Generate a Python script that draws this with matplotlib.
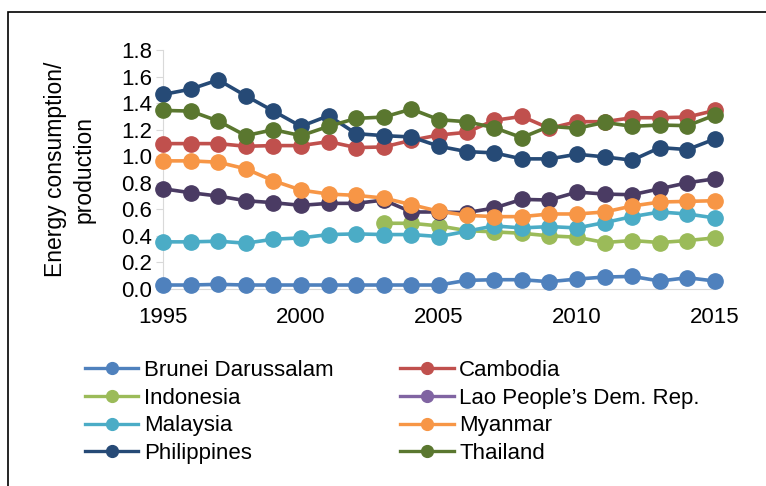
import numpy as np
import matplotlib.pyplot as plt
from matplotlib.lines import Line2D
from matplotlib.patches import Rectangle

plt.rcParams['font.family'] = ['Liberation Sans', 'DejaVu Sans']

years = list(range(1995, 2016))

brunei = [0.03, 0.03, 0.035, 0.03, 0.03, 0.03, 0.03, 0.03, 0.03, 0.03, 0.03,
          0.065, 0.07, 0.07, 0.055, 0.075, 0.09, 0.095, 0.06, 0.085, 0.06]
cambodia = [1.095, 1.095, 1.095, 1.075, 1.08, 1.08, 1.11, 1.065, 1.07, 1.12, 1.16,
            1.18, 1.27, 1.30, 1.21, 1.26, 1.26, 1.29, 1.29, 1.295, 1.345]
indonesia = [None] * 8 + [0.495, 0.495, 0.475,
                          0.44, 0.43, 0.42, 0.40, 0.39, 0.35, 0.365, 0.35, 0.365, 0.385]
lao = [0.755, 0.725, 0.70, 0.665, 0.65, 0.63, 0.645, 0.645, 0.67, 0.58, 0.58,
       0.575, 0.61, 0.675, 0.67, 0.73, 0.715, 0.71, 0.755, 0.80, 0.83]
malaysia = [0.355, 0.355, 0.36, 0.345, 0.375, 0.385, 0.41, 0.415, 0.41, 0.41, 0.395,
            0.435, 0.475, 0.46, 0.47, 0.46, 0.50, 0.545, 0.58, 0.565, 0.535]
myanmar = [0.965, 0.965, 0.955, 0.905, 0.815, 0.745, 0.715, 0.705, 0.685, 0.635, 0.585,
           0.555, 0.545, 0.545, 0.565, 0.565, 0.58, 0.625, 0.655, 0.66, 0.665]
philippines = [1.465, 1.505, 1.575, 1.455, 1.34, 1.225, 1.305, 1.17, 1.155, 1.145, 1.075,
               1.035, 1.025, 0.98, 0.98, 1.015, 0.995, 0.97, 1.065, 1.05, 1.13]
thailand = [1.345, 1.34, 1.265, 1.155, 1.20, 1.155, 1.225, 1.285, 1.295, 1.355, 1.275,
            1.26, 1.215, 1.14, 1.225, 1.21, 1.255, 1.225, 1.235, 1.23, 1.31]

names = ['Brunei Darussalam', 'Cambodia', 'Indonesia', "Lao People\u2019s Dem. Rep.",
         'Malaysia', 'Myanmar', 'Philippines', 'Thailand']
series = [brunei, cambodia, indonesia, lao, malaysia, myanmar, philippines, thailand]
line_colors = ['#4F81BD', '#C0504D', '#9BBB59', '#4A3B63',
               '#4BACC6', '#F79646', '#264A76', '#5A772F']
legend_colors = ['#4F81BD', '#C0504D', '#9BBB59', '#8064A2',
                 '#4BACC6', '#F79646', '#264A76', '#5A772F']

fig = plt.figure(figsize=(7.66, 4.86), dpi=100)
fig.patches.append(Rectangle((8 / 766, -0.1), 1.2, (486 - 12) / 486 + 0.1,
                             transform=fig.transFigure, fill=False,
                             edgecolor='black', linewidth=1.2))
ax = fig.add_axes([163 / 766, 1 - 289 / 486, (715 - 163) / 766, (289 - 50) / 486])

for vals, c in zip(series, line_colors):
    y = np.array([np.nan if v is None else v for v in vals], dtype=float)
    ax.plot(years, y, color=c, linewidth=2.6, marker='o', markersize=11,
            clip_on=False, zorder=3)

ax.set_xlim(1995, 2015)
ax.set_ylim(0, 1.8)
ax.set_xticks(range(1995, 2016, 5))
ax.set_yticks(np.arange(0, 1.81, 0.2))
ax.set_yticklabels([f'{v:.1f}' for v in np.arange(0, 1.81, 0.2)])
for s in ['top', 'right']:
    ax.spines[s].set_visible(False)
for s in ['left', 'bottom']:
    ax.spines[s].set_color('#D9D9D9')
ax.tick_params(axis='y', length=5, color='#D9D9D9', labelsize=16, pad=3)
ax.tick_params(axis='x', length=0, labelsize=16, pad=13)
ax.set_ylabel('Energy consumption/\nproduction', fontsize=16.5, linespacing=1.3,
              labelpad=18)

# legend is filled column by column: reorder so rows read left to right
order = [0, 2, 4, 6, 1, 3, 5, 7]
handles = [Line2D([], [], color=legend_colors[i], linewidth=2.4, marker='o', markersize=8.5)
           for i in order]
fig.legend(handles, [names[i] for i in order], ncol=2, loc='upper left',
           bbox_to_anchor=(85 / 766, 1 - 360 / 486), frameon=False, fontsize=16,
           handlelength=2.4, handletextpad=0.25, labelspacing=0.3,
           columnspacing=3.0, borderaxespad=0, borderpad=0)

fig.savefig('out.png', dpi=100)
